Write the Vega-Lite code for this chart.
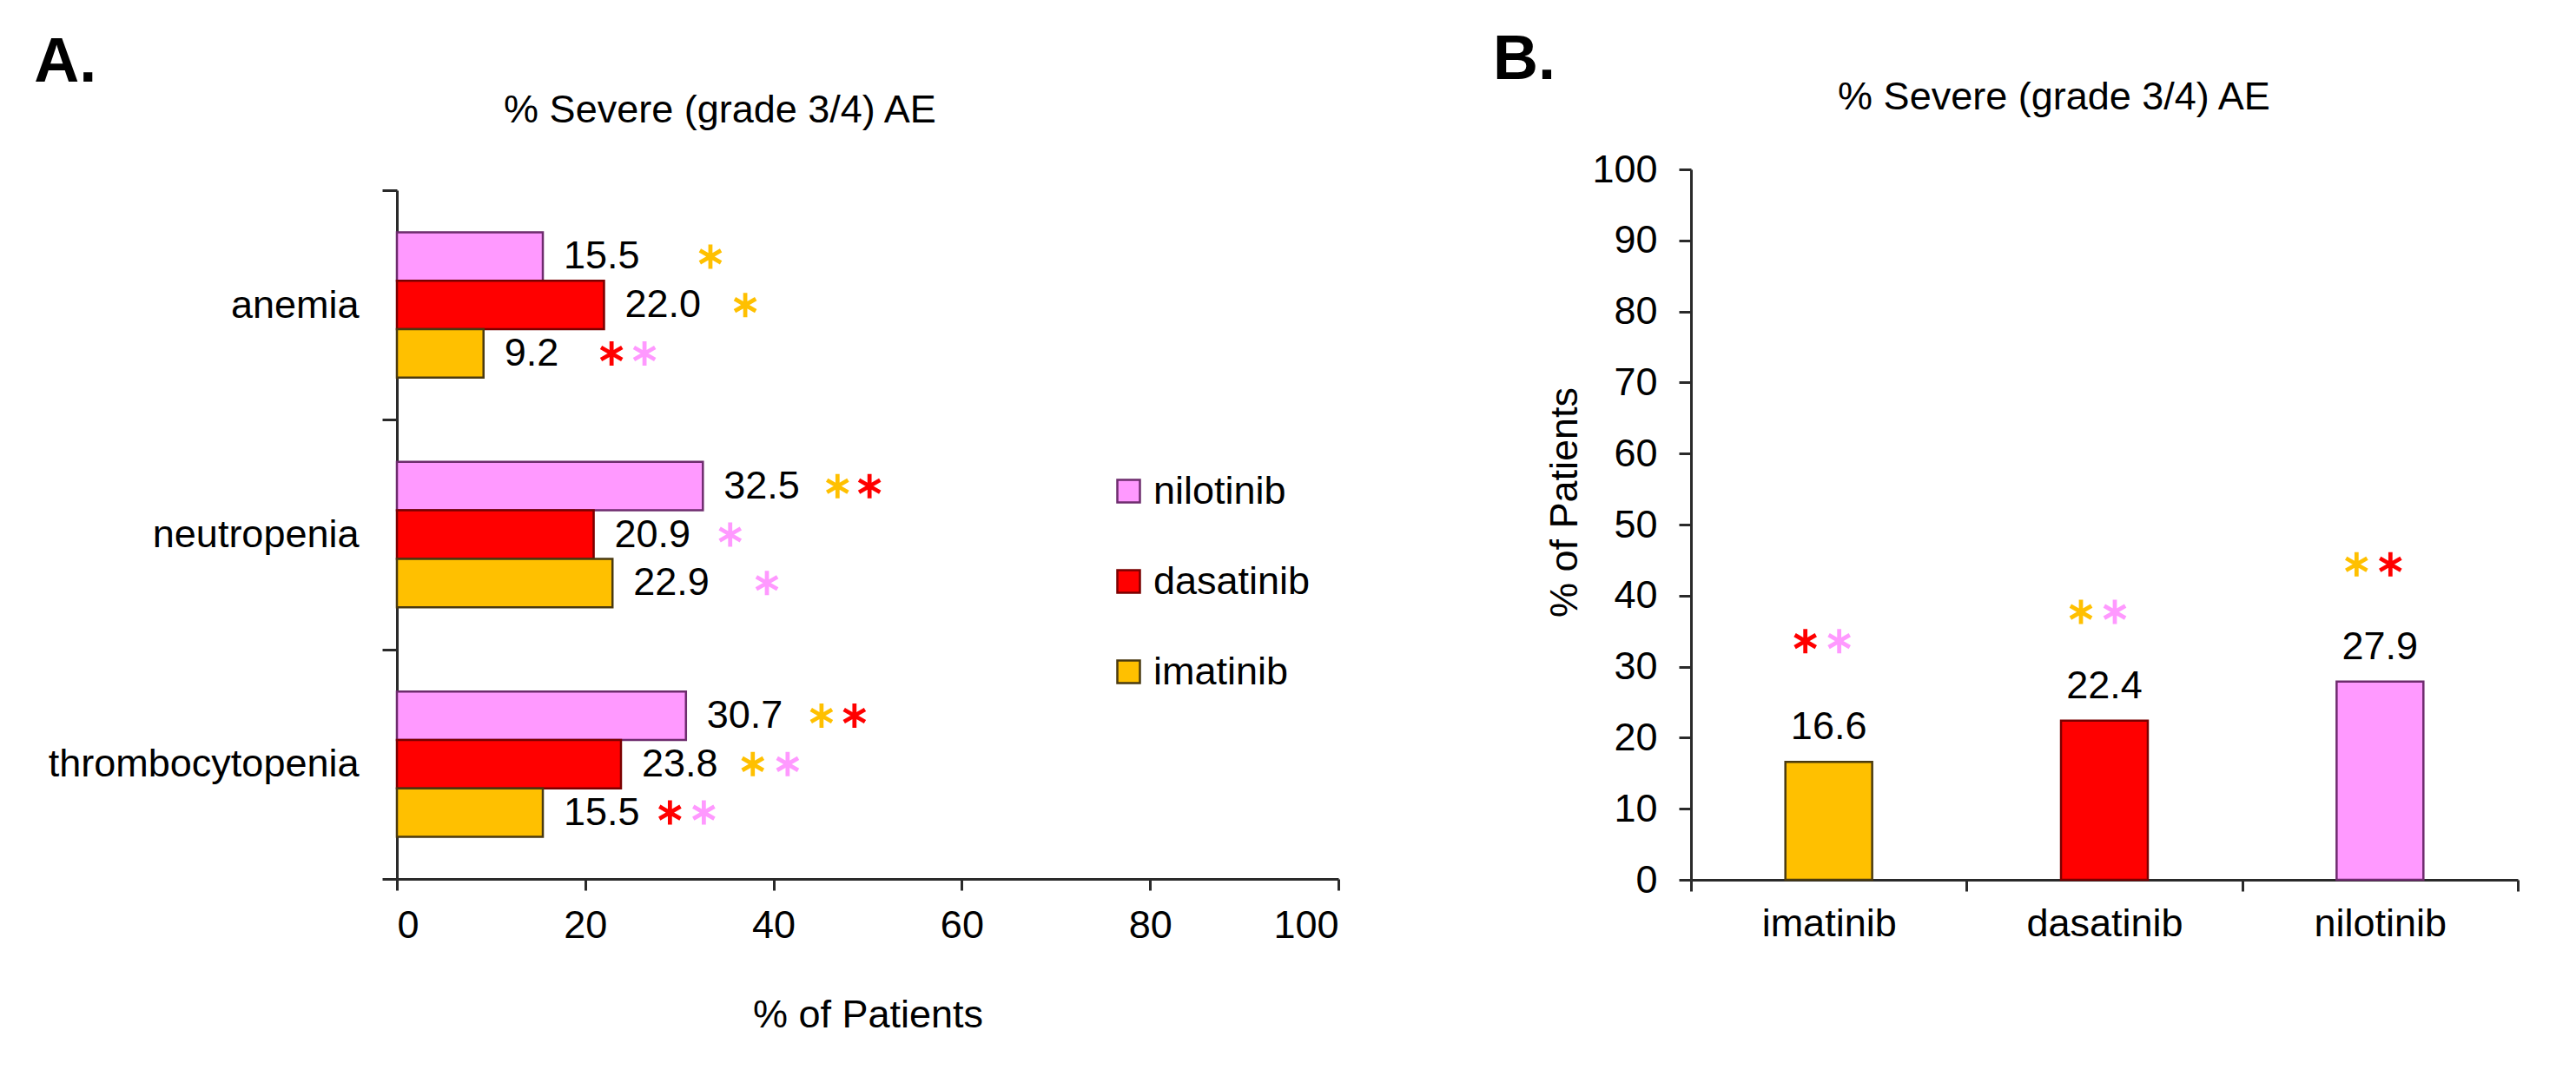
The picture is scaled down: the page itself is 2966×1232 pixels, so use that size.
{
  "$schema": "https://vega.github.io/schema/vega-lite/v6.json",
  "background": "white",
  "padding": {"left": 39, "top": 33, "right": 0, "bottom": 0},
  "config": {
    "font": "Liberation Sans",
    "view": {"stroke": null},
    "axis": {"grid": false, "domainColor": "#2a2a2a", "domainWidth": 3, "tickColor": "#2a2a2a", "tickWidth": 3, "labelColor": "#000", "titleColor": "#000", "labelFontSize": 45, "titleFontSize": 45, "titleFontWeight": "normal", "labelFont": "Liberation Sans", "titleFont": "Liberation Sans", "labelLimit": 0},
    "legend": {"labelLimit": 0},
    "title": {"font": "Liberation Sans", "color": "#000"},
    "text": {"font": "Liberation Sans", "color": "#000"}
  },
  "datasets": {
    "barsA": [
      {"ae": "anemia", "drug": "nilotinib", "pct": 15.5},
      {"ae": "anemia", "drug": "dasatinib", "pct": 22.0},
      {"ae": "anemia", "drug": "imatinib", "pct": 9.2},
      {"ae": "neutropenia", "drug": "nilotinib", "pct": 32.5},
      {"ae": "neutropenia", "drug": "dasatinib", "pct": 20.9},
      {"ae": "neutropenia", "drug": "imatinib", "pct": 22.9},
      {"ae": "thrombocytopenia", "drug": "nilotinib", "pct": 30.7},
      {"ae": "thrombocytopenia", "drug": "dasatinib", "pct": 23.8},
      {"ae": "thrombocytopenia", "drug": "imatinib", "pct": 15.5}
    ],
    "starsA": [
      {"ae": "anemia", "drug": "nilotinib", "vs": "imatinib", "pos": 33.3},
      {"ae": "anemia", "drug": "dasatinib", "vs": "imatinib", "pos": 37.0},
      {"ae": "anemia", "drug": "imatinib", "vs": "dasatinib", "pos": 22.8},
      {"ae": "anemia", "drug": "imatinib", "vs": "nilotinib", "pos": 26.3},
      {"ae": "neutropenia", "drug": "nilotinib", "vs": "imatinib", "pos": 46.8},
      {"ae": "neutropenia", "drug": "nilotinib", "vs": "dasatinib", "pos": 50.2},
      {"ae": "neutropenia", "drug": "dasatinib", "vs": "nilotinib", "pos": 35.4},
      {"ae": "neutropenia", "drug": "imatinib", "vs": "nilotinib", "pos": 39.3},
      {"ae": "thrombocytopenia", "drug": "nilotinib", "vs": "imatinib", "pos": 45.1},
      {"ae": "thrombocytopenia", "drug": "nilotinib", "vs": "dasatinib", "pos": 48.6},
      {"ae": "thrombocytopenia", "drug": "dasatinib", "vs": "imatinib", "pos": 37.8},
      {"ae": "thrombocytopenia", "drug": "dasatinib", "vs": "nilotinib", "pos": 41.5},
      {"ae": "thrombocytopenia", "drug": "imatinib", "vs": "dasatinib", "pos": 29.0},
      {"ae": "thrombocytopenia", "drug": "imatinib", "vs": "nilotinib", "pos": 32.6}
    ],
    "barsB": [
      {"drug": "imatinib", "pct": 16.6},
      {"drug": "dasatinib", "pct": 22.4},
      {"drug": "nilotinib", "pct": 27.9}
    ],
    "starsB": [
      {"drug": "imatinib", "vs": "dasatinib", "slot": "first", "pos": 33.6},
      {"drug": "imatinib", "vs": "nilotinib", "slot": "second", "pos": 33.6},
      {"drug": "dasatinib", "vs": "imatinib", "slot": "first", "pos": 37.7},
      {"drug": "dasatinib", "vs": "nilotinib", "slot": "second", "pos": 37.7},
      {"drug": "nilotinib", "vs": "imatinib", "slot": "first", "pos": 44.4},
      {"drug": "nilotinib", "vs": "dasatinib", "slot": "second", "pos": 44.4}
    ]
  },
  "resolve": {"scale": {"fill": "independent", "stroke": "independent"}, "legend": {"fill": "independent", "stroke": "independent"}},
  "spacing": 175,
  "hconcat": [
    {
      "title": {"text": "A.", "anchor": "start", "frame": "bounds", "fontSize": 72, "fontWeight": "bold", "dx": -16, "offset": -4},
      "vconcat": [
        {
          "title": {"text": "% Severe (grade 3/4) AE", "fontSize": 45, "fontWeight": "normal", "anchor": "middle", "frame": "group", "dx": -170, "offset": 23},
          "width": 1084,
          "height": 817,
          "encoding": {
            "y": {"field": "ae", "type": "nominal", "sort": ["anemia", "neutropenia", "thrombocytopenia"], "scale": {"paddingInner": 0, "paddingOuter": 0, "range": [24, 817]}, "axis": {"title": null, "tickBand": "extent", "tickSize": 17, "labelPadding": 27}},
            "yOffset": {"field": "drug", "type": "nominal", "sort": ["nilotinib", "dasatinib", "imatinib"], "scale": {"paddingInner": 0, "paddingOuter": 0.87}}
          },
          "layer": [
            {
              "data": {"name": "barsA"},
              "mark": {"type": "bar", "strokeWidth": 2.5},
              "encoding": {
                "x": {"field": "pct", "type": "quantitative", "scale": {"domain": [0, 100], "nice": false}, "axis": {"title": "% of Patients", "values": [0, 20, 40, 60, 80, 100], "tickSize": 13, "labelPadding": 18, "titlePadding": 58}},
                "fill": {"field": "drug", "type": "nominal", "scale": {"domain": ["nilotinib", "dasatinib", "imatinib"], "range": ["#FF99FF", "#FF0000", "#FFC000"]}, "legend": {"title": null, "orient": "none", "legendX": 820, "legendY": 348, "symbolType": "square", "symbolSize": 676, "symbolStrokeWidth": 2.5, "symbolStrokeColor": "#3a2a2a", "labelFontSize": 45, "labelOffset": 6, "rowPadding": 58, "padding": 0, "labelColor": "#000", "labelLimit": 0}},
                "stroke": {"field": "drug", "type": "nominal", "scale": {"domain": ["nilotinib", "dasatinib", "imatinib"], "range": ["#6E2C6E", "#7A0000", "#4A3A10"]}, "legend": null}
              }
            },
            {
              "data": {"name": "barsA"},
              "mark": {"type": "text", "align": "left", "baseline": "middle", "dx": 24, "fontSize": 45},
              "encoding": {
                "x": {"field": "pct", "type": "quantitative", "scale": {"domain": [0, 100], "nice": false}, "axis": {"title": "% of Patients", "values": [0, 20, 40, 60, 80, 100], "tickSize": 13, "labelPadding": 18, "titlePadding": 58}},
                "text": {"field": "pct", "type": "quantitative", "format": ".1f"}
              }
            },
            {
              "data": {"name": "starsA"},
              "mark": {"type": "point", "shape": "M-0.17,-1L0.17,-1L0.17,1L-0.17,1ZM0.781,-0.647L0.951,-0.353L-0.781,0.647L-0.951,0.353ZM0.951,0.353L0.781,0.647L-0.951,-0.353L-0.781,-0.647Z", "filled": true, "size": 784, "strokeWidth": 0, "opacity": 1},
              "encoding": {
                "x": {"field": "pos", "type": "quantitative", "scale": {"domain": [0, 100], "nice": false}, "axis": {"title": "% of Patients", "values": [0, 20, 40, 60, 80, 100], "tickSize": 13, "labelPadding": 18, "titlePadding": 58}},
                "fill": {"field": "vs", "type": "nominal", "scale": {"domain": ["nilotinib", "dasatinib", "imatinib"], "range": ["#FF99FF", "#FF0000", "#FFC000"]}, "legend": {"title": null, "orient": "none", "legendX": 820, "legendY": 348, "symbolType": "square", "symbolSize": 676, "symbolStrokeWidth": 2.5, "symbolStrokeColor": "#3a2a2a", "labelFontSize": 45, "labelOffset": 6, "rowPadding": 58, "padding": 0, "labelColor": "#000", "labelLimit": 0}}
              }
            }
          ]
        }
      ]
    },
    {
      "title": {"text": "B.", "anchor": "start", "frame": "bounds", "fontSize": 72, "fontWeight": "bold", "dx": -61, "offset": -16},
      "vconcat": [
        {
          "title": {"text": "% Severe (grade 3/4) AE", "fontSize": 45, "fontWeight": "normal", "anchor": "middle", "frame": "group", "dx": -58, "offset": 38},
          "width": 952,
          "height": 818,
          "encoding": {
            "x": {"field": "drug", "type": "nominal", "sort": ["imatinib", "dasatinib", "nilotinib"], "scale": {"paddingInner": 0, "paddingOuter": 0}, "axis": {"title": null, "labelAngle": 0, "tickBand": "extent", "tickSize": 13, "labelPadding": 15}}
          },
          "layer": [
            {
              "data": {"name": "barsB"},
              "mark": {"type": "bar", "width": {"band": 0.315}, "strokeWidth": 2.5},
              "encoding": {
                "y": {"field": "pct", "type": "quantitative", "scale": {"domain": [0, 100], "nice": false}, "axis": {"title": "% of Patients", "values": [0, 10, 20, 30, 40, 50, 60, 70, 80, 90, 100], "tickSize": 14, "labelPadding": 25, "titlePadding": 8, "titleY": 383}},
                "fill": {"field": "drug", "type": "nominal", "scale": {"domain": ["nilotinib", "dasatinib", "imatinib"], "range": ["#FF99FF", "#FF0000", "#FFC000"]}, "legend": null},
                "stroke": {"field": "drug", "type": "nominal", "scale": {"domain": ["nilotinib", "dasatinib", "imatinib"], "range": ["#6E2C6E", "#7A0000", "#4A3A10"]}, "legend": null}
              }
            },
            {
              "data": {"name": "barsB"},
              "mark": {"type": "text", "baseline": "alphabetic", "dy": -26, "fontSize": 45},
              "encoding": {
                "y": {"field": "pct", "type": "quantitative", "scale": {"domain": [0, 100], "nice": false}, "axis": {"title": "% of Patients", "values": [0, 10, 20, 30, 40, 50, 60, 70, 80, 90, 100], "tickSize": 14, "labelPadding": 25, "titlePadding": 8, "titleY": 383}},
                "text": {"field": "pct", "type": "quantitative", "format": ".1f"}
              }
            },
            {
              "data": {"name": "starsB"},
              "transform": [{"filter": "datum.slot == 'first'"}],
              "mark": {"type": "point", "shape": "M-0.17,-1L0.17,-1L0.17,1L-0.17,1ZM0.781,-0.647L0.951,-0.353L-0.781,0.647L-0.951,0.353ZM0.951,0.353L0.781,0.647L-0.951,-0.353L-0.781,-0.647Z", "filled": true, "size": 784, "strokeWidth": 0, "opacity": 1, "xOffset": -27},
              "encoding": {
                "y": {"field": "pos", "type": "quantitative", "scale": {"domain": [0, 100], "nice": false}, "axis": {"title": "% of Patients", "values": [0, 10, 20, 30, 40, 50, 60, 70, 80, 90, 100], "tickSize": 14, "labelPadding": 25, "titlePadding": 8, "titleY": 383}},
                "fill": {"field": "vs", "type": "nominal", "scale": {"domain": ["nilotinib", "dasatinib", "imatinib"], "range": ["#FF99FF", "#FF0000", "#FFC000"]}, "legend": null}
              }
            },
            {
              "data": {"name": "starsB"},
              "transform": [{"filter": "datum.slot == 'second'"}],
              "mark": {"type": "point", "shape": "M-0.17,-1L0.17,-1L0.17,1L-0.17,1ZM0.781,-0.647L0.951,-0.353L-0.781,0.647L-0.951,0.353ZM0.951,0.353L0.781,0.647L-0.951,-0.353L-0.781,-0.647Z", "filled": true, "size": 784, "strokeWidth": 0, "opacity": 1, "xOffset": 12},
              "encoding": {
                "y": {"field": "pos", "type": "quantitative", "scale": {"domain": [0, 100], "nice": false}, "axis": {"title": "% of Patients", "values": [0, 10, 20, 30, 40, 50, 60, 70, 80, 90, 100], "tickSize": 14, "labelPadding": 25, "titlePadding": 8, "titleY": 383}},
                "fill": {"field": "vs", "type": "nominal", "scale": {"domain": ["nilotinib", "dasatinib", "imatinib"], "range": ["#FF99FF", "#FF0000", "#FFC000"]}, "legend": null}
              }
            }
          ]
        }
      ]
    }
  ]
}
